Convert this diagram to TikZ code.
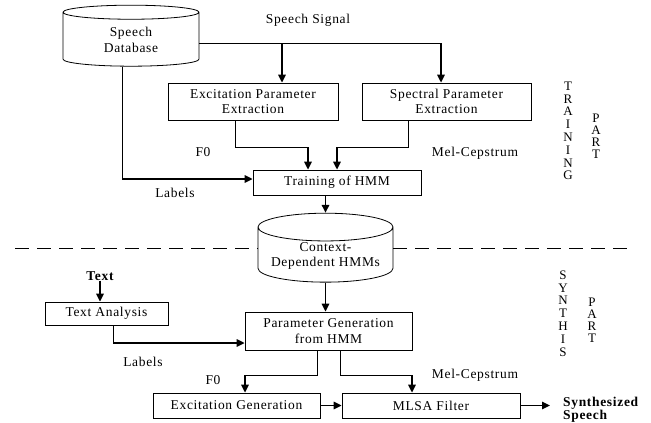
\documentclass[tikz,border=0pt]{standalone}
\usepackage{fontspec}
\setmainfont[LetterSpace=5]{Liberation Serif}
\usetikzlibrary{arrows.meta,shapes.geometric}
\tikzset{
  box/.style={draw,line width=0.8pt,rectangle,inner sep=1pt,align=center},
  dbase/.style={draw,line width=0.8pt,cylinder,shape border rotate=90,aspect=0.25,align=center,inner sep=1pt},
  lbl/.style={inner sep=0pt},
  line/.style={line width=0.8pt},
  arr/.style={line width=1.6pt,-{Triangle[length=8pt,width=7.5pt]}}
}
\begin{document}
\begin{tikzpicture}[x=1pt,y=-1pt,line cap=butt,line join=miter,font=\fontsize{13.5}{15.5}\selectfont]
\useasboundingbox (0,0) rectangle (651,423);
\node[dbase,minimum width=136,minimum height=61] (db) at (131,40) {Speech\\Database};
\node[box,minimum width=170,minimum height=37] (exc) at (253,101.5) {Excitation Parameter\\Extraction};
\node[box,minimum width=169,minimum height=37] (spec) at (446.5,101.5) {Spectral Parameter\\Extraction};
\node[box,minimum width=168,minimum height=25] (train) at (337,182.5) {Training of HMM};
\node[dbase,minimum width=135,minimum height=63] (ctx) at (325.5,256) {Context-\\Dependent HMMs};
\node[box,minimum width=167,minimum height=38] (pgen) at (328.5,331) {Parameter Generation\\from HMM};
\node[lbl,font=\fontsize{13.5}{15.5}\selectfont\bfseries] (txt) at (100,276) {Text};
\node[box,minimum width=123,minimum height=23] (ta) at (106.5,313.5) {Text Analysis};
\node[box,minimum width=167,minimum height=25] (eg) at (236.5,405.5) {Excitation Generation};
\node[box,minimum width=178,minimum height=25] (mlsa) at (431,405.5) {MLSA Filter};
\node[lbl,anchor=west,align=left,font=\fontsize{13.5}{13}\selectfont\bfseries] (out) at (563,410) {Synthesized\\Speech};

\node[lbl] (sigl) at (308,20) {Speech Signal};
\node[lbl] (f0l) at (203,152) {F0};
\node[lbl] (lbl1) at (175,193) {Labels};
\node[lbl] (mcl) at (475,153) {Mel-Cepstrum};
\node[lbl] (lbl2) at (143,362) {Labels};
\node[lbl] (f0l2) at (213,380) {F0};
\node[lbl] (mcl2) at (475,375) {Mel-Cepstrum};
\node[lbl,align=center,font=\fontsize{13}{12.8}\selectfont] (trn) at (568,131) {T\\R\\A\\I\\N\\I\\N\\G};
\node[lbl,align=center,font=\fontsize{13}{12}\selectfont] (prt1) at (596,136.5) {P\\A\\R\\T};
\node[lbl,align=center,font=\fontsize{13}{12.8}\selectfont] (syn) at (563,313.5) {S\\Y\\N\\T\\H\\I\\S};
\node[lbl,align=center,font=\fontsize{13}{12}\selectfont] (prt2) at (592,320.5) {P\\A\\R\\T};

\coordinate (sig) at (441,43);
\coordinate (sigx) at (282,43);
\draw[line] (db.east |- sig) -- (sig);
\draw[arr] (sig) -- (sig |- spec.north);
\draw[arr] (sigx) -- (sigx |- exc.north);

\coordinate (f0a) at (235,147);
\coordinate (f0b) at (308,147);
\draw[line] (exc.south -| f0a) -- (f0a) -- (f0b);
\draw[arr] (f0b) -- (f0b |- train.north);
\coordinate (mca) at (408,147);
\coordinate (mcb) at (337,147);
\draw[line] (spec.south -| mca) -- (mca) -- (mcb);
\draw[arr] (mcb) -- (mcb |- train.north);
\coordinate (lba) at (122,179);
\draw[line] (db.south -| lba) -- (lba);
\draw[arr] (lba) -- (lba -| train.west);
\draw[arr] (train.south -| ctx.north) -- (ctx.north);

\coordinate (dl) at (15,248);
\coordinate (dr) at (628,248);
\draw[line,dash pattern=on 14pt off 8pt] (dl) -- (dl -| ctx.west);
\draw[line,dash pattern=on 14pt off 8pt] (dr -| ctx.east) -- (dr);

\draw[arr] (ctx.south) -- (ctx.south |- pgen.north);
\draw[arr] (txt.south) -- (txt.south |- ta.north);
\coordinate (lbb) at (113,343);
\draw[line] (ta.south -| lbb) -- (lbb);
\draw[arr] (lbb) -- (lbb -| pgen.west);
\coordinate (f0c) at (317,375);
\coordinate (f0d) at (245,375);
\draw[line] (pgen.south -| f0c) -- (f0c) -- (f0d);
\draw[arr] (f0d) -- (f0d |- eg.north);
\coordinate (mcc) at (340,375);
\coordinate (mcd) at (412,375);
\draw[line] (pgen.south -| mcc) -- (mcc) -- (mcd);
\draw[arr] (mcd) -- (mcd |- mlsa.north);
\draw[arr] (eg) -- (mlsa);
\coordinate (outp) at (550,405.5);
\draw[arr] (mlsa) -- (outp);
\end{tikzpicture}
\end{document}
